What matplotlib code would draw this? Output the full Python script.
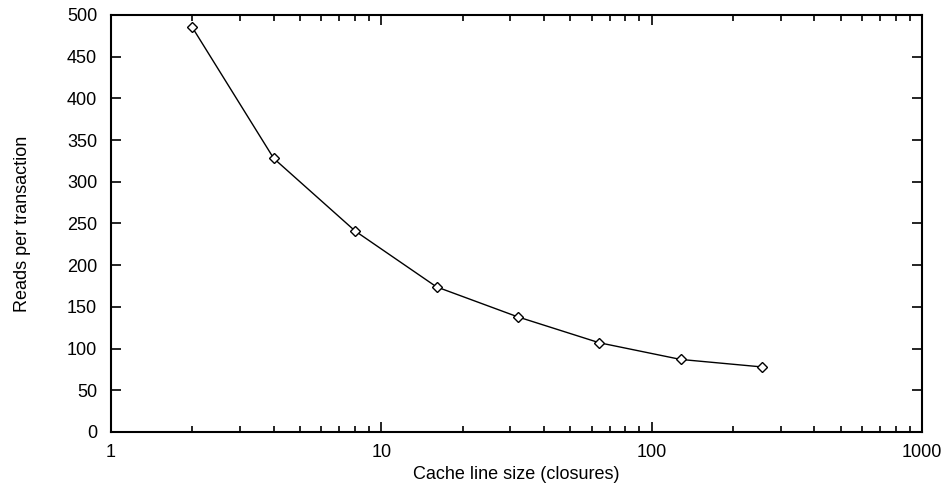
import matplotlib
matplotlib.use('Agg')
import matplotlib.pyplot as plt
import numpy as np

line_size = [2, 4, 8, 16, 32, 64, 128, 256]
reads = [485, 328, 241, 174, 138, 107, 87, 78]

plt.rcParams['font.family'] = ['Liberation Sans', 'DejaVu Sans']

fig = plt.figure(figsize=(9.47, 4.83), dpi=100)
ax = fig.add_axes([0.1172, 0.1056, 0.8564, 0.8634])

ax.plot(line_size, reads, color='black', linewidth=1.0, marker='D',
        markersize=5, markerfacecolor='white', markeredgecolor='black',
        markeredgewidth=1.0)

ax.set_xscale('log')
ax.set_xlim(1, 1000)
ax.set_ylim(0, 500)
ax.set_yticks(np.arange(0, 501, 50))
ax.set_xticks([1, 10, 100, 1000])
ax.set_xticklabels(['1', '10', '100', '1000'])

ax.tick_params(which='both', direction='in', top=True, right=True,
               labelsize=13, color='black')
ax.tick_params(which='major', length=7, width=1.2)
ax.tick_params(which='minor', length=4, width=1.2)
ax.tick_params(axis='y', pad=10)
ax.tick_params(axis='x', pad=9)
ax.minorticks_on()
ax.yaxis.set_minor_locator(matplotlib.ticker.NullLocator())
for s in ax.spines.values():
    s.set_linewidth(1.5)

ax.set_xlabel('Cache line size (closures)', fontsize=13, labelpad=3)
ax.set_ylabel('Reads per transaction', fontsize=13, labelpad=26)

fig.savefig('out.png', dpi=100)
